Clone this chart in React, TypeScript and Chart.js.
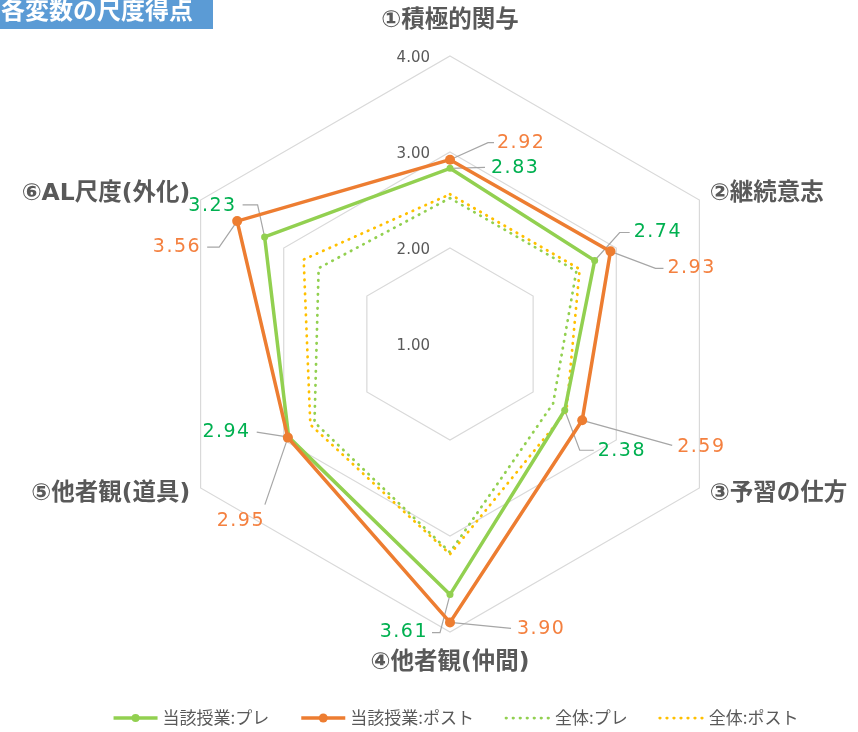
import React, { useEffect, useRef } from "react";
import { Chart, registerables } from "chart.js";

Chart.register(...registerables);

const chartTitle = "各変数の尺度得点";
const categories = ["①積極的関与", "②継続意志", "③予習の仕方", "④他者観(仲間)", "⑤他者観(道具)", "⑥AL尺度(外化)"];
const seriesNames = ["当該授業:プレ", "当該授業:ポスト", "全体:プレ", "全体:ポスト"];
const classPre = [2.83, 2.74, 2.38, 3.61, 2.94, 3.23];
const classPost = [2.92, 2.93, 2.59, 3.9, 2.95, 3.56];
const allPre = [2.52, 2.52, 2.24, 3.17, 2.63, 2.58];
const allPost = [2.56, 2.56, 2.4, 3.19, 2.68, 2.76];
const tickValues = [1, 2, 3, 4];

const GREEN = "#92d050";
const ORANGE = "#ed7d31";
const GOLD = "#ffc000";
const GREEN_TEXT = "#00b050";
const ORANGE_TEXT = "#f4803f";
const GRAY_TEXT = "#595959";
const NUM_FONT = '"DejaVu Sans", sans-serif';
const CJK_FONT = '"DejaVu Sans", "Noto Sans CJK JP", sans-serif';
const JP_FONT = '"Noto Sans CJK JP", sans-serif';

type LabelSpec = { lead: number[][]; text: number[]; align: CanvasTextAlign };

// label offsets relative to each data point (pixels)
const preLabelSpecs: LabelSpec[] = [
  { lead: [[35, -1]], text: [41, 0], align: "left" },
  { lead: [[25, -28], [35, -28]], text: [39, -28], align: "left" },
  { lead: [[15, 40], [29, 40]], text: [33, 41], align: "left" },
  { lead: [[-10, 38], [-18, 38]], text: [-22, 38], align: "right" },
  { lead: [[-32, -5]], text: [-38, -5], align: "right" },
  { lead: [[-7, -32], [-22, -32]], text: [-28, -31], align: "right" },
];
const postLabelSpecs: LabelSpec[] = [
  { lead: [[38, -17], [44, -17]], text: [47, -17], align: "left" },
  { lead: [[45, 17], [53, 17]], text: [57, 17], align: "left" },
  { lead: [[90, 25]], text: [95, 27], align: "left" },
  { lead: [[61, 6]], text: [67, 7], align: "left" },
  { lead: [[-23, 67]], text: [-47, 83], align: "center" },
  { lead: [[-18, 26], [-30, 26]], text: [-36, 26], align: "right" },
];

const overlayPlugin = {
  id: "overlay",
  beforeDatasetsDraw(chart: any) {
    const ctx: CanvasRenderingContext2D = chart.ctx;
    const s = chart.scales.r;
    ctx.save();
    // tick labels
    ctx.font = `15px ${NUM_FONT}`;
    ctx.fillStyle = GRAY_TEXT;
    ctx.textAlign = "right";
    ctx.textBaseline = "middle";
    tickValues.forEach((v) => {
      const y = s.yCenter - s.getDistanceFromCenterForValue(v);
      ctx.fillText(v.toFixed(2), s.xCenter - 20, y + 2.5);
    });
    // leader lines
    ctx.strokeStyle = "#a6a6a6";
    ctx.lineWidth = 1.2;
    [[0, preLabelSpecs], [1, postLabelSpecs]].forEach(([di, specs]: any) => {
      const meta = chart.getDatasetMeta(di);
      meta.data.forEach((pt: any, j: number) => {
        const sp = specs[j];
        ctx.beginPath();
        ctx.moveTo(pt.x, pt.y);
        sp.lead.forEach((o: number[]) => ctx.lineTo(pt.x + o[0], pt.y + o[1]));
        ctx.stroke();
      });
    });
    ctx.restore();
  },
  afterDatasetsDraw(chart: any) {
    const ctx: CanvasRenderingContext2D = chart.ctx;
    const s = chart.scales.r;
    ctx.save();
    // data labels
    ctx.font = `19px ${NUM_FONT}`;
    (ctx as any).letterSpacing = "1.5px";
    ctx.textBaseline = "middle";
    const sets: any[] = [
      [0, preLabelSpecs, classPre, GREEN_TEXT],
      [1, postLabelSpecs, classPost, ORANGE_TEXT],
    ];
    sets.forEach(([di, specs, vals, col]) => {
      const meta = chart.getDatasetMeta(di);
      ctx.fillStyle = col;
      meta.data.forEach((pt: any, j: number) => {
        const sp = specs[j];
        ctx.textAlign = sp.align;
        ctx.fillText(vals[j].toFixed(2), pt.x + sp.text[0], pt.y + sp.text[1]);
      });
    });
    (ctx as any).letterSpacing = "0px";
    // point (category) labels
    ctx.font = `bold 23.5px ${CJK_FONT}`;
    ctx.fillStyle = GRAY_TEXT;
    categories.forEach((c, i) => {
      const p = s.getPointPosition(i, s.drawingArea + 12);
      let x = p.x;
      let y = p.y;
      if (Math.abs(p.x - s.xCenter) < 1) {
        ctx.textAlign = "center";
        y += p.y < s.yCenter ? -23 : 19;
      } else {
        ctx.textAlign = p.x > s.xCenter ? "left" : "right";
      }
      ctx.fillText(c, x, y);
    });
    // title box
    ctx.fillStyle = "#5b9bd5";
    ctx.fillRect(0, 0, 213, 29);
    ctx.fillStyle = "#ffffff";
    ctx.font = `bold 24px ${JP_FONT}`;
    ctx.textAlign = "left";
    ctx.fillText(chartTitle, 1, 10);
    // legend
    const styles = [
      { color: GREEN, dotted: false, r: 4 },
      { color: ORANGE, dotted: false, r: 4.5 },
      { color: GREEN, dotted: true, r: 0 },
      { color: GOLD, dotted: true, r: 0 },
    ];
    ctx.font = `17px ${JP_FONT}`;
    const lineLen = 46;
    const textGap = 5;
    const itemGap = 30;
    const widths = seriesNames.map((n) => ctx.measureText(n).width);
    const total = widths.reduce((a, w) => a + lineLen + textGap + w, 0) + itemGap * (seriesNames.length - 1);
    let x = 455 - total / 2;
    const ly = 718;
    seriesNames.forEach((n, i) => {
      const st = styles[i];
      ctx.save();
      ctx.strokeStyle = st.color;
      if (st.dotted) {
        ctx.lineWidth = 2.75;
        ctx.lineCap = "round";
        ctx.setLineDash([0.5, 6.5]);
      } else {
        ctx.lineWidth = 3.5;
      }
      ctx.beginPath();
      ctx.moveTo(x + 2, ly);
      ctx.lineTo(x + lineLen, ly);
      ctx.stroke();
      if (st.r > 0) {
        ctx.fillStyle = st.color;
        ctx.beginPath();
        ctx.arc(x + lineLen / 2 + 1, ly, st.r, 0, Math.PI * 2);
        ctx.fill();
      }
      ctx.restore();
      ctx.fillStyle = GRAY_TEXT;
      ctx.textAlign = "left";
      ctx.textBaseline = "middle";
      ctx.fillText(n, x + lineLen + textGap, ly);
      x += lineLen + textGap + widths[i] + itemGap;
    });
    ctx.restore();
  },
};

export default function App() {
  const ref = useRef<HTMLCanvasElement | null>(null);
  useEffect(() => {
    if (!ref.current) return;
    const chart = new Chart(ref.current, {
      type: "radar",
      data: {
        labels: categories,
        datasets: [
          {
            label: seriesNames[0],
            data: classPre,
            borderColor: GREEN,
            backgroundColor: GREEN,
            borderWidth: 3.5,
            pointRadius: 3.5,
            pointBorderWidth: 0,
            pointBackgroundColor: GREEN,
            fill: false,
            order: 2,
          },
          {
            label: seriesNames[1],
            data: classPost,
            borderColor: ORANGE,
            backgroundColor: ORANGE,
            borderWidth: 3.5,
            pointRadius: 5,
            pointBorderWidth: 0,
            pointBackgroundColor: ORANGE,
            fill: false,
            order: 1,
          },
          {
            label: seriesNames[2],
            data: allPre,
            borderColor: GREEN,
            borderWidth: 2.75,
            borderDash: [0.5, 6.5],
            borderCapStyle: "round",
            pointRadius: 0,
            fill: false,
            order: 4,
          },
          {
            label: seriesNames[3],
            data: allPost,
            borderColor: GOLD,
            borderWidth: 2.75,
            borderDash: [0.5, 6.5],
            borderCapStyle: "round",
            pointRadius: 0,
            fill: false,
            order: 3,
          },
        ],
      },
      options: {
        responsive: false,
        animation: false,
        devicePixelRatio: 1,
        layout: { padding: { left: 162, top: 56, right: 120, bottom: 100 } },
        elements: { line: { tension: 0 } },
        plugins: { legend: { display: false }, tooltip: { enabled: false }, title: { display: false } },
        scales: {
          r: {
            min: 1,
            max: 4,
            ticks: { stepSize: 1, display: false },
            pointLabels: { display: false },
            angleLines: { display: false },
            grid: { color: "#d9d9d9", lineWidth: 1.2 },
          },
        },
      },
      plugins: [overlayPlugin],
    } as any);
    return () => chart.destroy();
  }, []);
  return (
    <div style={{ position: "fixed", left: 0, top: 0, width: 858, height: 732, background: "#fff" }}>
      <canvas ref={ref} width={858} height={732} style={{ width: 858, height: 732, display: "block" }} />
    </div>
  );
}
